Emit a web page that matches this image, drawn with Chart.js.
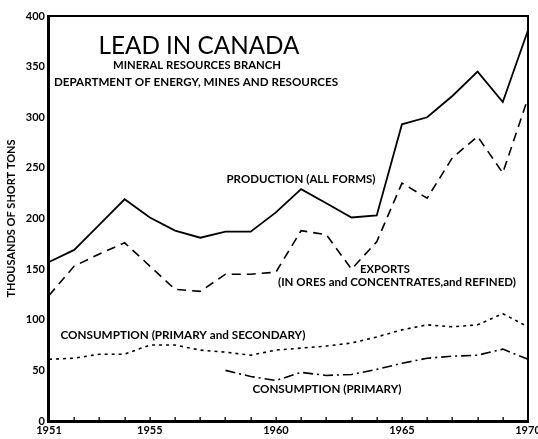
<!DOCTYPE html>
<html>
<head>
<meta charset="utf-8">
<title>Lead in Canada</title>
<script src="https://cdn.jsdelivr.net/npm/chart.js@4.4.1/dist/chart.umd.min.js"></script>
<style>
  html, body { margin: 0; padding: 0; background: #fff; }
  #wrap { width: 538px; height: 439px; }
</style>
</head>
<body>
<div id="wrap"><canvas id="leadChart" width="538" height="439"></canvas></div>
<script>
// Years on the x axis, only a few of them get a label
const years = [1951, 1952, 1953, 1954, 1955, 1956, 1957, 1958, 1959, 1960,
               1961, 1962, 1963, 1964, 1965, 1966, 1967, 1968, 1969, 1970];
const yearLabels = [1951, 1955, 1960, 1965, 1970];

// Thousands of short tons
const production = [157, 169, 194, 219, 201, 188, 181, 187, 187, 206,
                    229, 215, 201, 203, 293, 300, 321, 345, 315, 386];
const exportsTotal = [124, 153, 165, 176, 153, 130, 128, 145, 145, 147,
                      188, 184, 150, 177, 235, 220, 260, 281, 245, 319];
const consumptionAll = [61, 62, 66, 66, 75, 75, 70, 68, 65, 70,
                        72, 74, 77, 83, 90, 95, 93, 95, 106, 93];
const consumptionPrimary = [null, null, null, null, null, null, null, 50, 44, 40,
                            48, 45, 46, 51, 57, 62, 64, 65, 71, 61];

const FONT = 'Lato, "DejaVu Sans", sans-serif';

// text squeezed or stretched to a given width, centred on (cx, cy)
function fitText(ctx, text, cx, cy, width, size, weight) {
    ctx.save();
    ctx.font = weight + ' ' + size + 'px ' + FONT;
    const w = ctx.measureText(text).width;
    ctx.translate(cx, cy);
    ctx.scale(width / w, 1);
    ctx.textAlign = 'center';
    ctx.textBaseline = 'middle';
    ctx.fillStyle = '#000';
    ctx.fillText(text, 0, 0);
    ctx.restore();
}

// frame, year ticks and the written labels
const decorations = {
    id: 'decorations',
    afterDraw(chart) {
        const ctx = chart.ctx;
        const a = chart.chartArea;
        const xs = chart.scales.x;
        const l = Math.round(a.left), r = Math.round(a.right);
        const t = Math.round(a.top), b = Math.round(a.bottom);
        ctx.save();
        ctx.fillStyle = '#000';
        // heavy left and bottom axes, lighter top and right
        ctx.fillRect(l - 2, t - 1, 3, b - t + 3);
        ctx.fillRect(l - 2, b - 1, r - l + 3, 3);
        ctx.fillRect(l - 2, t - 1, r - l + 3, 2);
        ctx.fillRect(r - 1, t - 1, 2, b - t + 2);
        // small inward ticks for every year
        years.forEach((y, i) => {
            const px = Math.round(xs.getPixelForValue(i));
            ctx.fillRect(px - 0.5, b - 4, 1.3, 4);
        });
        ctx.restore();

        fitText(ctx, 'LEAD IN CANADA', 199, 46, 201, 25, 'normal');
        fitText(ctx, 'MINERAL RESOURCES BRANCH', 197, 65, 168, 11, 'bold');
        fitText(ctx, 'DEPARTMENT OF ENERGY, MINES AND RESOURCES', 196, 82, 284, 11, 'bold');
        fitText(ctx, 'PRODUCTION (ALL FORMS)', 301, 179, 149, 11, 'bold');
        fitText(ctx, 'EXPORTS', 385, 269, 50, 11, 'bold');
        fitText(ctx, '(IN ORES and CONCENTRATES,and REFINED)', 397, 282, 238, 11, 'bold');
        fitText(ctx, 'CONSUMPTION (PRIMARY and SECONDARY)', 183, 335, 245, 11, 'bold');
        fitText(ctx, 'CONSUMPTION (PRIMARY)', 327, 389, 149, 11, 'bold');
    }
};

const lineStyle = (data, dash, width) => ({
    data: data,
    borderColor: '#000',
    backgroundColor: '#000',
    borderWidth: width,
    borderDash: dash,
    pointRadius: 0,
    tension: 0,
    fill: false,
    spanGaps: false
});

new Chart(document.getElementById('leadChart'), {
    type: 'line',
    data: {
        labels: years.map(String),
        datasets: [
            lineStyle(production, [], 1.8),
            lineStyle(exportsTotal, [9, 6], 1.6),
            lineStyle(consumptionAll, [3, 4], 1.6),
            lineStyle(consumptionPrimary, [10, 4, 2, 4], 1.6)
        ]
    },
    options: {
        responsive: false,
        animation: false,
        layout: { padding: { left: 0, right: 10, top: 16, bottom: 0 } },
        plugins: {
            legend: { display: false },
            tooltip: { enabled: false }
        },
        scales: {
            x: {
                offset: false,
                grid: { display: false, drawTicks: false },
                border: { display: false },
                ticks: {
                    autoSkip: false,
                    maxRotation: 0,
                    padding: 3,
                    color: '#000',
                    font: { family: FONT, size: 11, weight: 'bold' },
                    callback(value) {
                        const y = years[value];
                        return yearLabels.includes(y) ? String(y) : '';
                    }
                },
                afterFit(scale) {
                    scale.height = 18;
                    scale.paddingLeft = 0;
                    scale.paddingRight = 0;
                }
            },
            y: {
                min: 0,
                max: 400,
                grid: { display: false, drawTicks: false },
                border: { display: false },
                ticks: {
                    stepSize: 50,
                    padding: 4,
                    color: '#000',
                    font: { family: FONT, size: 11, weight: 'bold' }
                },
                title: {
                    display: true,
                    text: 'THOUSANDS OF SHORT TONS',
                    color: '#000',
                    padding: { top: 5, bottom: 0 },
                    font: { family: FONT, size: 11, weight: 'bold' }
                },
                afterFit(scale) {
                    scale.width = 49;
                }
            }
        }
    },
    plugins: [decorations]
});
</script>
</body>
</html>
